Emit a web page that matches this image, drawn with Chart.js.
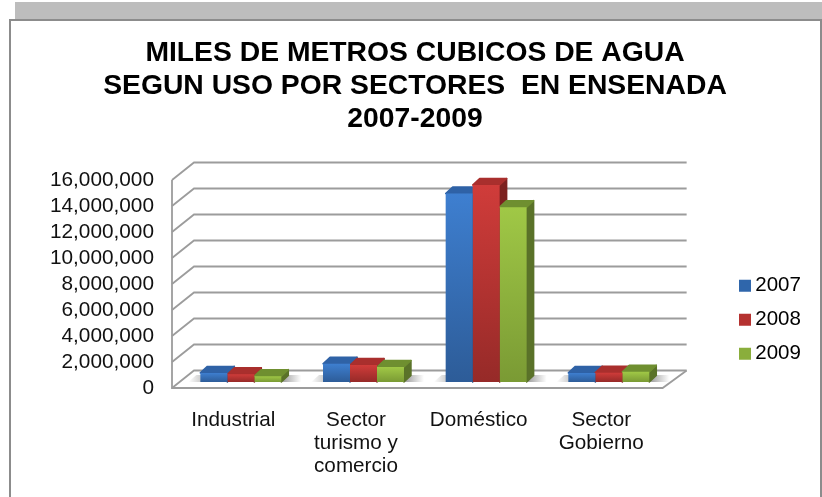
<!DOCTYPE html>
<html><head><meta charset="utf-8">
<style>html,body{margin:0;padding:0;background:#fff}canvas{display:block}</style>
<script src="https://cdn.jsdelivr.net/npm/chart.js@4"></script>
</head><body><canvas id="c" width="822" height="497"></canvas>
<script>
const categories=["Industrial",["Sector","turismo y","comercio"],"Doméstico",["Sector","Gobierno"]];
const years=["2007","2008","2009"];
const values2007=[700000,1400000,14500000,700000];
const values2008=[600000,1300000,15150000,720000];
const values2009=[450000,1150000,13450000,780000];
const palette=[
 {top:"#3e7fd0",bottom:"#2d5c98",side:"#24497c",cap:"#2f62a6",key:"#2f66ab"},
 {top:"#d03c3a",bottom:"#962a28",side:"#7c2120",cap:"#a92f2d",key:"#b53230"},
 {top:"#a0c846",bottom:"#7a9a34",side:"#5a7229",cap:"#6f8f30",key:"#8aae3c"}];
const DEPTH_X=7.5,DEPTH_Y=6,WALL_BACK_X=22,WALL_BACK_Y=17.5,SIDE_X=7,SIDE_Y=6.5;
const GRID="#9c9c9c";

const scene={id:"scene",
 beforeDraw(ch){const c=ch.ctx;c.save();
  c.fillStyle="#fff";c.fillRect(0,0,822,497);
  c.fillStyle="#bdbdbd";c.fillRect(15,2,807,18);
  c.strokeStyle="#8c8c8c";c.lineWidth=2;
  c.beginPath();c.moveTo(10,497);c.lineTo(10,20);c.lineTo(821,20);c.lineTo(821,497);c.stroke();
  c.restore();},
 beforeDatasetsDraw(ch){const c=ch.ctx,y=ch.scales.y,a=ch.chartArea;
  c.save();c.strokeStyle=GRID;c.lineWidth=1.8;
  y.ticks.forEach(t=>{const p=y.getPixelForValue(t.value);
   c.beginPath();c.moveTo(a.left,p);c.lineTo(a.left+WALL_BACK_X,p-WALL_BACK_Y);
   c.lineTo(a.right+24,p-WALL_BACK_Y);c.stroke();});
  const b=y.getPixelForValue(0);
  c.beginPath();c.moveTo(a.left,y.getPixelForValue(16000000));c.lineTo(a.left,b);c.lineTo(a.right,b);
  c.lineTo(a.right+24,b-WALL_BACK_Y);c.stroke();
  // floor shadow
  const metas=[0,1,2].map(i=>ch.getDatasetMeta(i).data);
  categories.forEach((_,i)=>{const l=metas[0][i].x-metas[0][i].width/2,r=metas[2][i].x+metas[2][i].width/2;
   const fy=b-DEPTH_Y,x0=l-12+DEPTH_X,x1=r+20+DEPTH_X;
   const g=c.createLinearGradient(x0,0,x1,0);
   g.addColorStop(0,"rgba(110,110,110,0)");g.addColorStop(.15,"rgba(110,110,110,.45)");
   g.addColorStop(.85,"rgba(110,110,110,.6)");g.addColorStop(1,"rgba(110,110,110,0)");
   c.fillStyle=g;c.beginPath();c.moveTo(x0,fy);c.lineTo(x1,fy);c.lineTo(x1+4,fy-7);c.lineTo(x0+8,fy-7);c.fill();});
  c.translate(DEPTH_X,-DEPTH_Y);
  c.lineJoin="round";c.lineWidth=1.5;
  metas.forEach((bars,d)=>{const col=palette[d];
   bars.forEach(e=>{const l=e.x-e.width/2,r=e.x+e.width/2,t=e.y,bt=e.base;
    c.fillStyle=c.strokeStyle=col.side;c.beginPath();c.moveTo(r,t);c.lineTo(r+SIDE_X,t-SIDE_Y);
    c.lineTo(r+SIDE_X,bt-SIDE_Y);c.lineTo(r,bt);c.closePath();c.fill();c.stroke();
    c.fillStyle=c.strokeStyle=col.cap;c.beginPath();c.moveTo(l,t);c.lineTo(l+SIDE_X,t-SIDE_Y);
    c.lineTo(r+SIDE_X,t-SIDE_Y);c.lineTo(r,t);c.closePath();c.fill();c.stroke();});});
 },
 afterDatasetsDraw(ch){ch.ctx.restore();},
 afterLayout(ch){const l=ch.legend;l.left=731.5;l.top=262;l.right=822;l.bottom=497;
  const t=ch.titleBlock;t.left=10;t.right=820;}
};
function fill(d){return ctx=>{
 if(!ctx.parsed)return palette[d].key;
 const s=ctx.chart.scales.y,g=ctx.chart.ctx.createLinearGradient(0,s.getPixelForValue(ctx.parsed.y),0,s.getPixelForValue(0));
 g.addColorStop(0,palette[d].top);g.addColorStop(1,palette[d].bottom);return g;};}
const series=[values2007,values2008,values2009];
new Chart(document.getElementById("c"),{type:"bar",
 data:{labels:categories,datasets:series.map((v,i)=>({label:years[i],data:v,backgroundColor:fill(i),
  categoryPercentage:.66,barPercentage:1}))},
 options:{responsive:false,animation:false,devicePixelRatio:1,
  layout:{padding:{left:10,right:80,top:0,bottom:0}},
  plugins:{tooltip:{enabled:false},
   title:{display:true,text:["MILES DE METROS CUBICOS DE AGUA","SEGUN USO POR SECTORES  EN ENSENADA","2007-2009"],
    color:"#000",font:{family:"Liberation Sans",size:28.3,weight:"bold",lineHeight:1.166},padding:{top:37,bottom:44}},
   legend:{position:"right",align:"start",labels:{color:"#111",font:{family:"Liberation Sans",size:20.5},
     usePointStyle:true,boxWidth:0.01,boxHeight:12,padding:13.5,
     generateLabels:()=>years.map((y,i)=>({text:y,fillStyle:palette[i].key,strokeStyle:palette[i].key,lineWidth:0,pointStyle:"rect",datasetIndex:i}))}}},
  scales:{
   x:{grid:{display:false},border:{display:false},afterFit(s){s.height=109;},
    ticks:{color:"#111",font:{family:"Liberation Sans",size:20.7,lineHeight:1.11},padding:13,maxRotation:0,autoSkip:false}},
   y:{min:0,max:16000000,grid:{display:false},border:{display:false},afterFit(s){s.width=162;},
    ticks:{stepSize:2000000,autoSkip:false,color:"#111",font:{family:"Liberation Sans",size:20.8},padding:10,
     callback:v=>v.toLocaleString("en-US")}}
  }},
 plugins:[scene]});
</script></body></html>
